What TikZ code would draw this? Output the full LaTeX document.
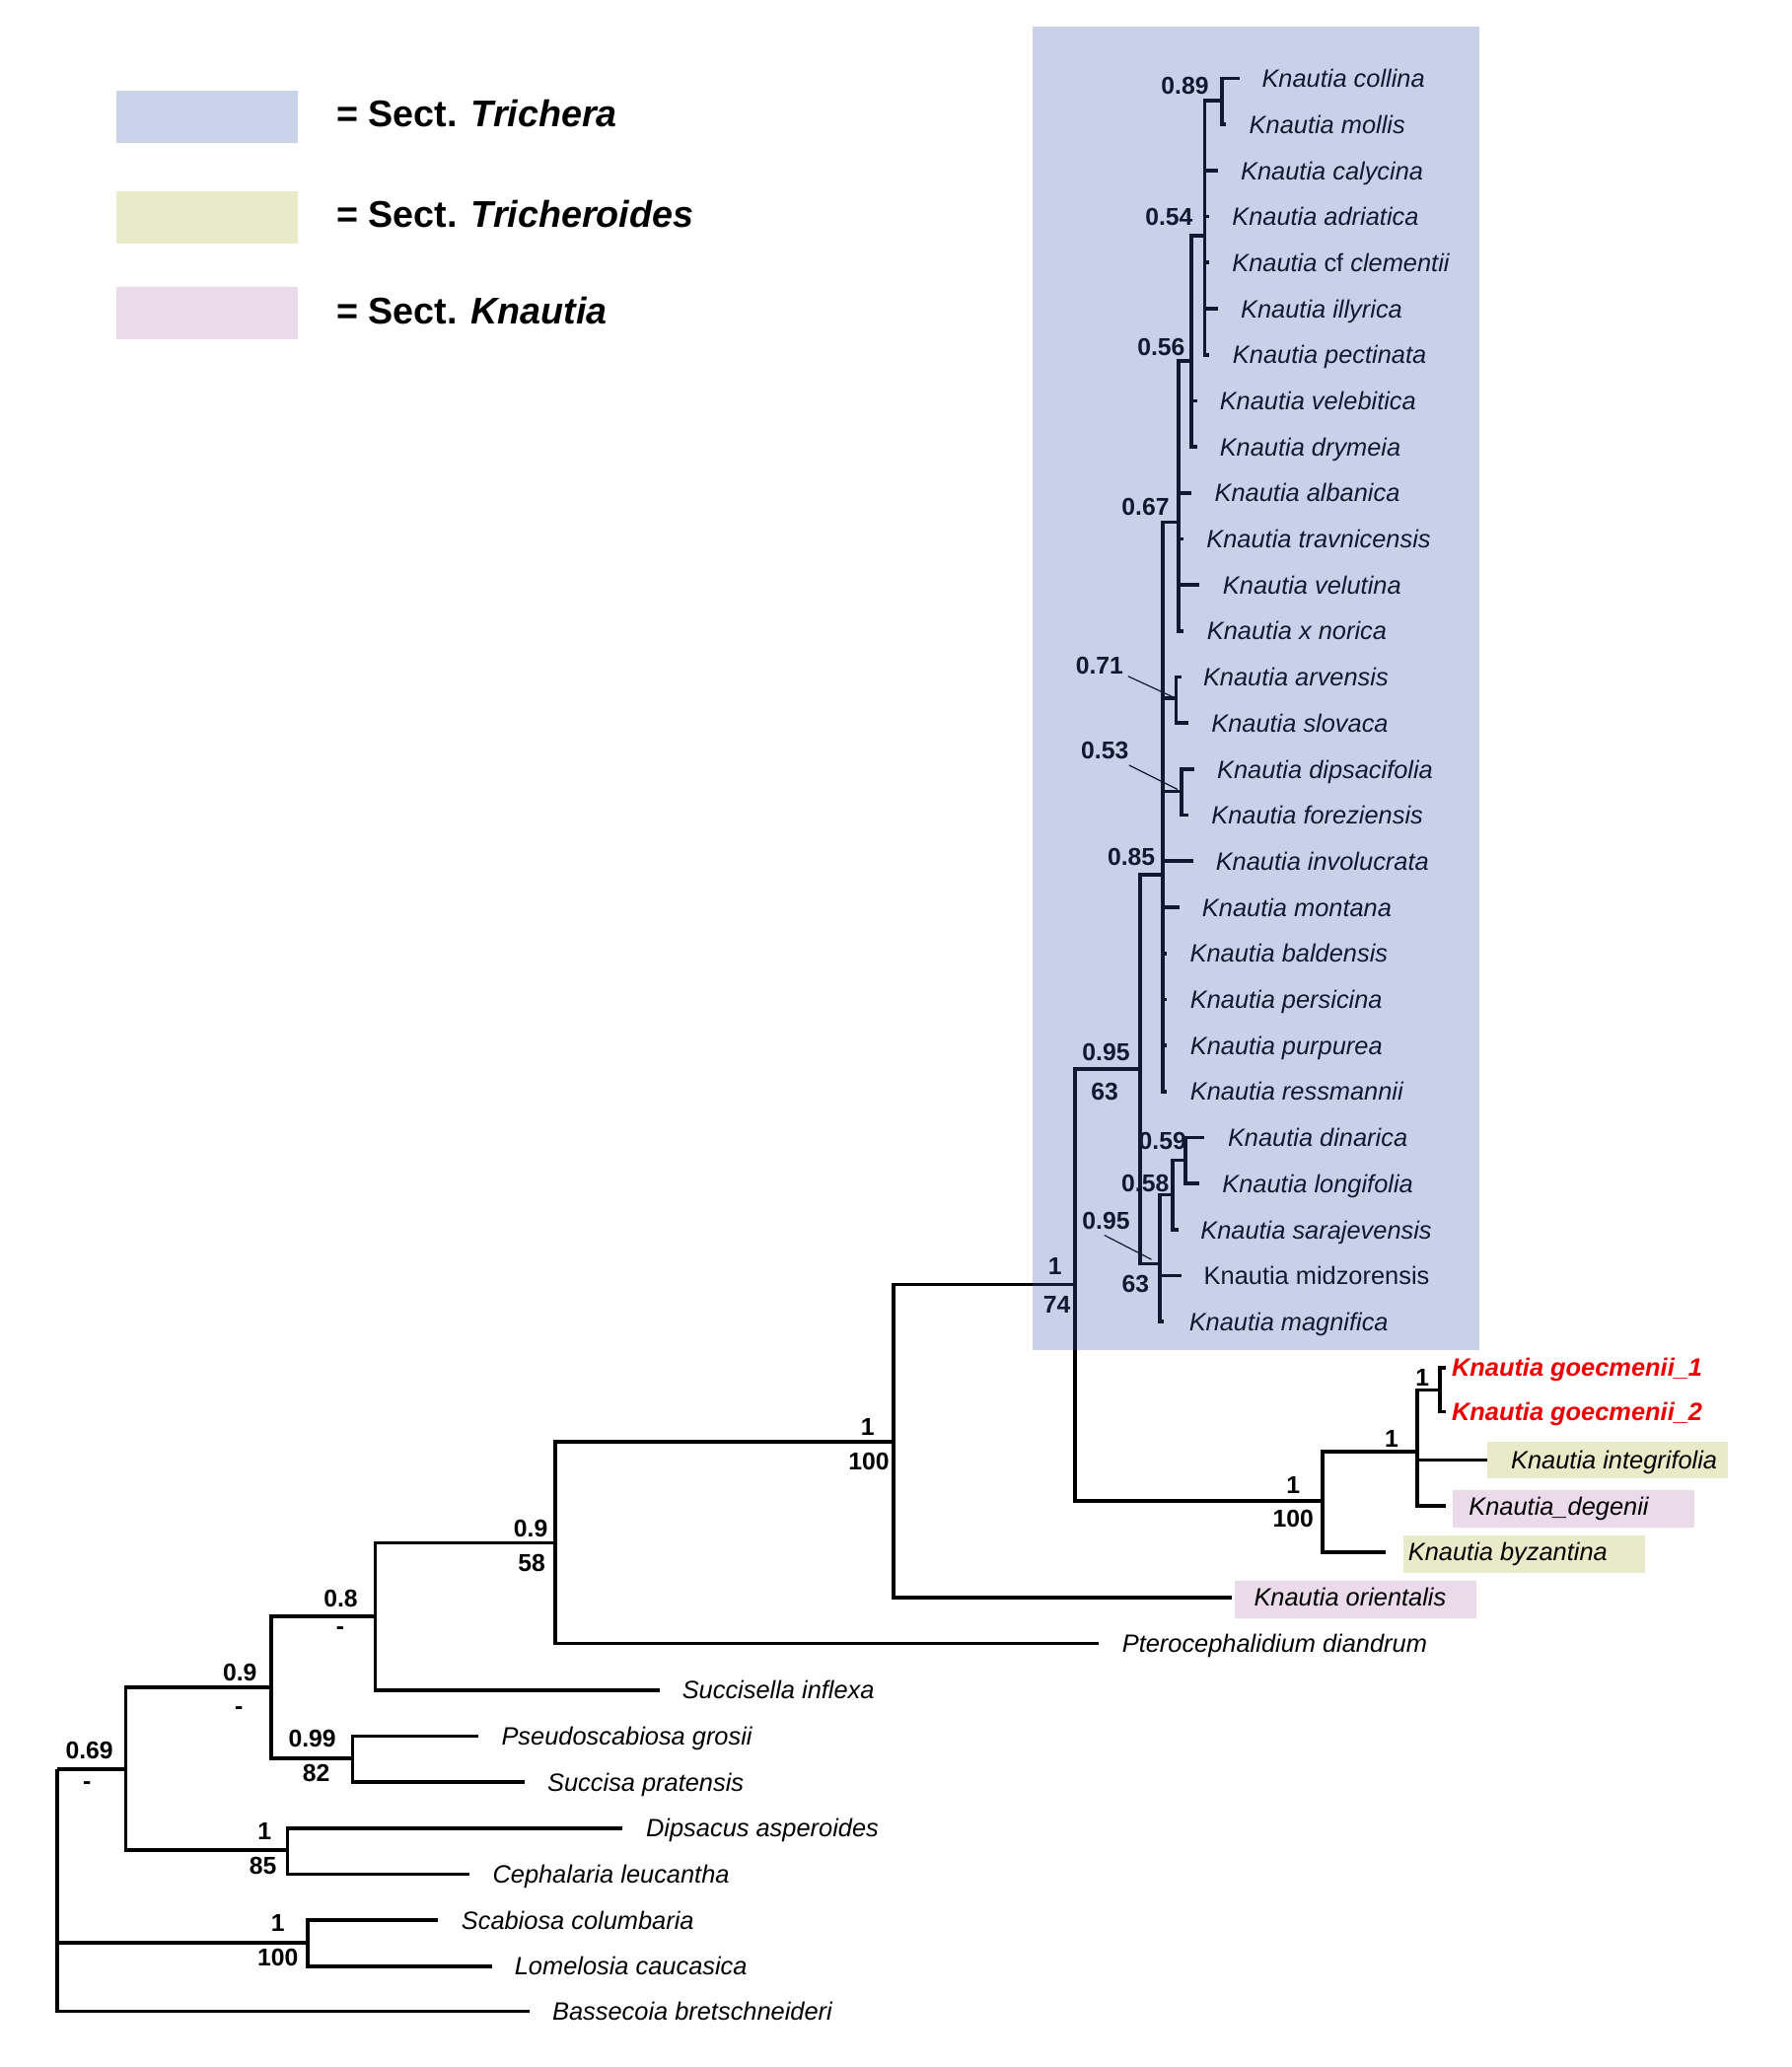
\documentclass[tikz,border=0pt]{standalone}
\usepackage{fontspec}
\setmainfont{Liberation Sans}
\definecolor{secblue}{RGB}{60,93,171}
\definecolor{legblue}{RGB}{200,210,232}
\definecolor{secgreen}{RGB}{232,234,200}
\definecolor{secpink}{RGB}{234,218,234}
\definecolor{kred}{RGB}{238,0,0}
\tikzset{
  br/.style={line width=2.7pt, line join=miter},
  tax/.style={font=\fontsize{19}{22}\selectfont\itshape, anchor=base west, inner sep=0pt},
  supl/.style={font=\fontsize{18.5}{22}\selectfont\bfseries, anchor=base, inner sep=0pt},
  leader/.style={line width=0.9pt},
  legbox/.style={minimum width=138pt, minimum height=39.5pt, inner sep=0pt, draw=none},
  legtext/.style={font=\fontsize{28.2}{32}\selectfont\bfseries, anchor=base west, inner sep=0pt},
}
\newcommand\leaf[6][]{\coordinate (#2) at (#3,#4); \node[tax,#1] (#2-t) at (#5,#4+6.8) {#6};}
\newcommand\supp[5][6.6]{\node[supl] (#2) at (#3,#4+#1) {#5};}
\begin{document}
\begin{tikzpicture}[x=1pt,y=-1pt]
\useasboundingbox (0,0) rectangle (1359,1568);
\fill[white] (0,0) rectangle (1359,1568);

% legend
\node[legbox, fill=legblue] (lb1) at (157,88.9) {};
\node[legbox, fill=secgreen] (lb2) at (157,165) {};
\node[legbox, fill=secpink] (lb3) at (157,237.7) {};
\node[legtext] (lt1) at (255,96) {= Sect. \textit{Trichera}};
\node[legtext] (lt2) at (255,172.5) {= Sect. \textit{Tricheroides}};
\node[legtext] (lt3) at (255,245.6) {= Sect. \textit{Knautia}};

% section boxes for single taxa
\fill[secgreen] (1128,1094) rectangle (1311,1121.5);
\fill[secpink] (1102,1130) rectangle (1285,1158.5);
\fill[secgreen] (1064.7,1165) rectangle (1248,1193.5);
\fill[secpink] (936.5,1199.5) rectangle (1120,1227.5);

% internal nodes
\coordinate (root) at (43.6,1342);
\coordinate (n069) at (95.5,1342);
\coordinate (n090b) at (205.7,1280);
\coordinate (n080) at (284.7,1226);
\coordinate (n090a) at (421.3,1170.5);
\coordinate (n100a) at (677.6,1093.7);
\coordinate (n174) at (815.3,974.3);
\coordinate (n095o) at (864.6,810.8);
\coordinate (n085) at (882,663.7);
\coordinate (n067) at (893.8,396);
\coordinate (n056) at (903.8,274);
\coordinate (n054) at (913.7,179);
\coordinate (n089) at (927,76.5);
\coordinate (n071) at (892,529.8);
\coordinate (n053) at (896.3,600.4);
\coordinate (n095i) at (879.6,958.6);
\coordinate (n058) at (889.6,906.2);
\coordinate (n059) at (899.3,880);
\coordinate (n100b) at (1003,1138.5);
\coordinate (n1c) at (1075,1101);
\coordinate (ngoec) at (1092,1054.5);
\coordinate (n099) at (267.3,1333.8);
\coordinate (n185) at (218.2,1403.2);
\coordinate (n1100) at (233.6,1473.5);

% leaves
\leaf{collina}{940}{59.5}{957}{Knautia collina}
\leaf{mollis}{930}{94.4}{947.4}{Knautia mollis}
\leaf{calycina}{923.7}{129.4}{941}{Knautia calycina}
\leaf{adriatica}{917.5}{164.3}{934.4}{Knautia adriatica}
\leaf{clementii}{917.5}{199.2}{934.4}{Knautia {\upshape cf} clementii}
\leaf{illyrica}{924}{234.2}{941}{Knautia illyrica}
\leaf{pectinata}{917}{269.1}{934.9}{Knautia pectinata}
\leaf{velebitica}{907.8}{304}{925}{Knautia velebitica}
\leaf{drymeia}{908}{338.9}{925}{Knautia drymeia}
\leaf{albanica}{903.6}{373.9}{921.2}{Knautia albanica}
\leaf{travnicensis}{897.5}{408.8}{915}{Knautia travnicensis}
\leaf{velutina}{910}{443.7}{927.4}{Knautia velutina}
\leaf{norica}{897.5}{478.7}{915.4}{Knautia x norica}
\leaf{arvensis}{896}{513.6}{912.5}{Knautia arvensis}
\leaf{slovaca}{901.8}{548.5}{918.7}{Knautia slovaca}
\leaf{dipsacifolia}{906.3}{583.5}{923}{Knautia dipsacifolia}
\leaf{foreziensis}{901.8}{618.4}{918.7}{Knautia foreziensis}
\leaf{involucrata}{905}{653.3}{922}{Knautia involucrata}
\leaf{montana}{894.5}{688.2}{911.7}{Knautia montana}
\leaf{baldensis}{885}{723.2}{902.5}{Knautia baldensis}
\leaf{persicina}{885}{758.1}{902.6}{Knautia persicina}
\leaf{purpurea}{885}{793}{902.6}{Knautia purpurea}
\leaf{ressmannii}{885}{828}{902.6}{Knautia ressmannii}
\leaf{dinarica}{913.7}{862.9}{931.2}{Knautia dinarica}
\leaf{longifolia}{909.5}{897.8}{927}{Knautia longifolia}
\leaf{sarajevensis}{893.8}{932.8}{910.5}{Knautia sarajevensis}
\leaf[font=\fontsize{19}{22}\selectfont\upshape]{midzorensis}{896.3}{967.7}{913}{Knautia midzorensis}
\leaf{magnifica}{883}{1002.6}{901.8}{Knautia magnifica}
\leaf[font=\fontsize{19}{22}\selectfont\bfseries\itshape, text=kred]{goecA}{1097}{1037.5}{1101}{Knautia goecmenii\_1}
\leaf[font=\fontsize{19}{22}\selectfont\bfseries\itshape, text=kred]{goecB}{1097}{1071}{1101}{Knautia goecmenii\_2}
\leaf{integrifolia}{1128}{1107.4}{1146}{Knautia integrifolia}
\leaf{degenii}{1097}{1142.3}{1114}{Knautia\_degenii}
\leaf{byzantina}{1051}{1177.3}{1068}{Knautia byzantina}
\leaf{orientalis}{934.5}{1211.7}{951}{Knautia orientalis}
\leaf{ptero}{833}{1246.6}{851}{Pterocephalidium diandrum}
\leaf{succisella}{500.6}{1282}{517.3}{Succisella inflexa}
\leaf{pseudo}{362.8}{1317}{380.2}{Pseudoscabiosa grosii}
\leaf{succisa}{397.7}{1351.9}{415.1}{Succisa pratensis}
\leaf{dipsacus}{472.4}{1386.8}{489.9}{Dipsacus asperoides}
\leaf{cephalaria}{356}{1421.8}{373.5}{Cephalaria leucantha}
\leaf{scabiosa}{332.1}{1456.7}{349.8}{Scabiosa columbaria}
\leaf{lomelosia}{373.5}{1491.6}{390.2}{Lomelosia caucasica}
\leaf{bassecoia}{401.9}{1525.8}{418.8}{Bassecoia bretschneideri}

% branches
\foreach \p/\c in {root/n069, root/n1100, root/bassecoia,
  n069/n090b, n069/n185, n090b/n080, n090b/n099,
  n080/n090a, n080/succisella, n090a/n100a, n090a/ptero,
  n100a/n174, n100a/orientalis, n174/n095o, n174/n100b,
  n095o/n085, n095o/n095i,
  n085/n067, n085/n071, n085/n053, n085/involucrata, n085/montana,
  n085/baldensis, n085/persicina, n085/purpurea, n085/ressmannii,
  n067/n056, n067/albanica, n067/travnicensis, n067/velutina, n067/norica,
  n056/n054, n056/velebitica, n056/drymeia,
  n054/n089, n054/calycina, n054/adriatica, n054/clementii, n054/illyrica, n054/pectinata,
  n089/collina, n089/mollis, n071/arvensis, n071/slovaca,
  n053/dipsacifolia, n053/foreziensis,
  n095i/n058, n095i/midzorensis, n095i/magnifica,
  n058/n059, n058/sarajevensis, n059/dinarica, n059/longifolia,
  n100b/n1c, n100b/byzantina, n1c/ngoec, n1c/integrifolia, n1c/degenii,
  ngoec/goecA, ngoec/goecB, n099/pseudo, n099/succisa,
  n185/dipsacus, n185/cephalaria, n1100/scabiosa, n1100/lomelosia}
  \draw[br] (\p) |- (\c);

% support values
\supp{s089}{898.8}{64.8}{0.89}
\supp{s054}{886.8}{164.5}{0.54}
\supp{s056}{880.8}{263}{0.56}
\supp{s067}{868.9}{384}{0.67}
\supp{s071}{834}{505}{0.71}
\supp{s053}{838}{569}{0.53}
\supp{s085}{858.1}{650.2}{0.85}
\supp{s095o}{839}{797.8}{0.95}
\supp{b095o}{838}{827.7}{63}
\supp{s059}{881.8}{865}{0.59}
\supp{s058}{868.7}{897.6}{0.58}
\supp{s095i}{839}{926}{0.95}
\supp{b095i}{861.4}{973.6}{63}
\supp{s174}{800.3}{960}{1}
\supp{b174}{801.6}{989.8}{74}
\supp{sgoec}{1079}{1044.5}{1}
\supp{s1c}{1055.6}{1091}{1}
\supp{s100b}{981}{1126}{1}
\supp{b100b}{981}{1152}{100}
\supp{s100a}{658.2}{1082}{1}
\supp{b100a}{659}{1108.2}{100}
\supp{s090a}{402.6}{1159.3}{0.9}
\supp{b090a}{403.4}{1185.5}{58}
\supp{s080}{258.5}{1212.4}{0.8}
\supp[5]{b080}{258}{1234.6}{-}
\supp{s090b}{182}{1268.5}{0.9}
\supp[5]{b090b}{181.2}{1295.7}{-}
\supp{s099}{236.9}{1318.9}{0.99}
\supp{b099}{239.9}{1345}{82}
\supp{s069}{67.8}{1327.6}{0.69}
\supp[5]{b069}{66}{1352.5}{-}
\supp{s185}{200.7}{1388.7}{1}
\supp{b185}{199.5}{1414.9}{85}
\supp{s1100}{210.7}{1458.5}{1}
\supp{b1100}{210.7}{1484.7}{100}

% leader lines
\coordinate (ld071) at (855.7,513);
\coordinate (ld053) at (856.4,580.4);
\coordinate (ld095) at (837.7,937);
\draw[leader, shorten >=2pt] (ld071) -- (n071);
\draw[leader, shorten >=3.5pt] (ld053) -- (n053);
\draw[leader, shorten >=7pt] (ld095) -- (n095i);

% Sect. Trichera overlay
\fill[secblue, fill opacity=0.28] (783,20) rectangle (1122,1024);
\end{tikzpicture}
\end{document}
